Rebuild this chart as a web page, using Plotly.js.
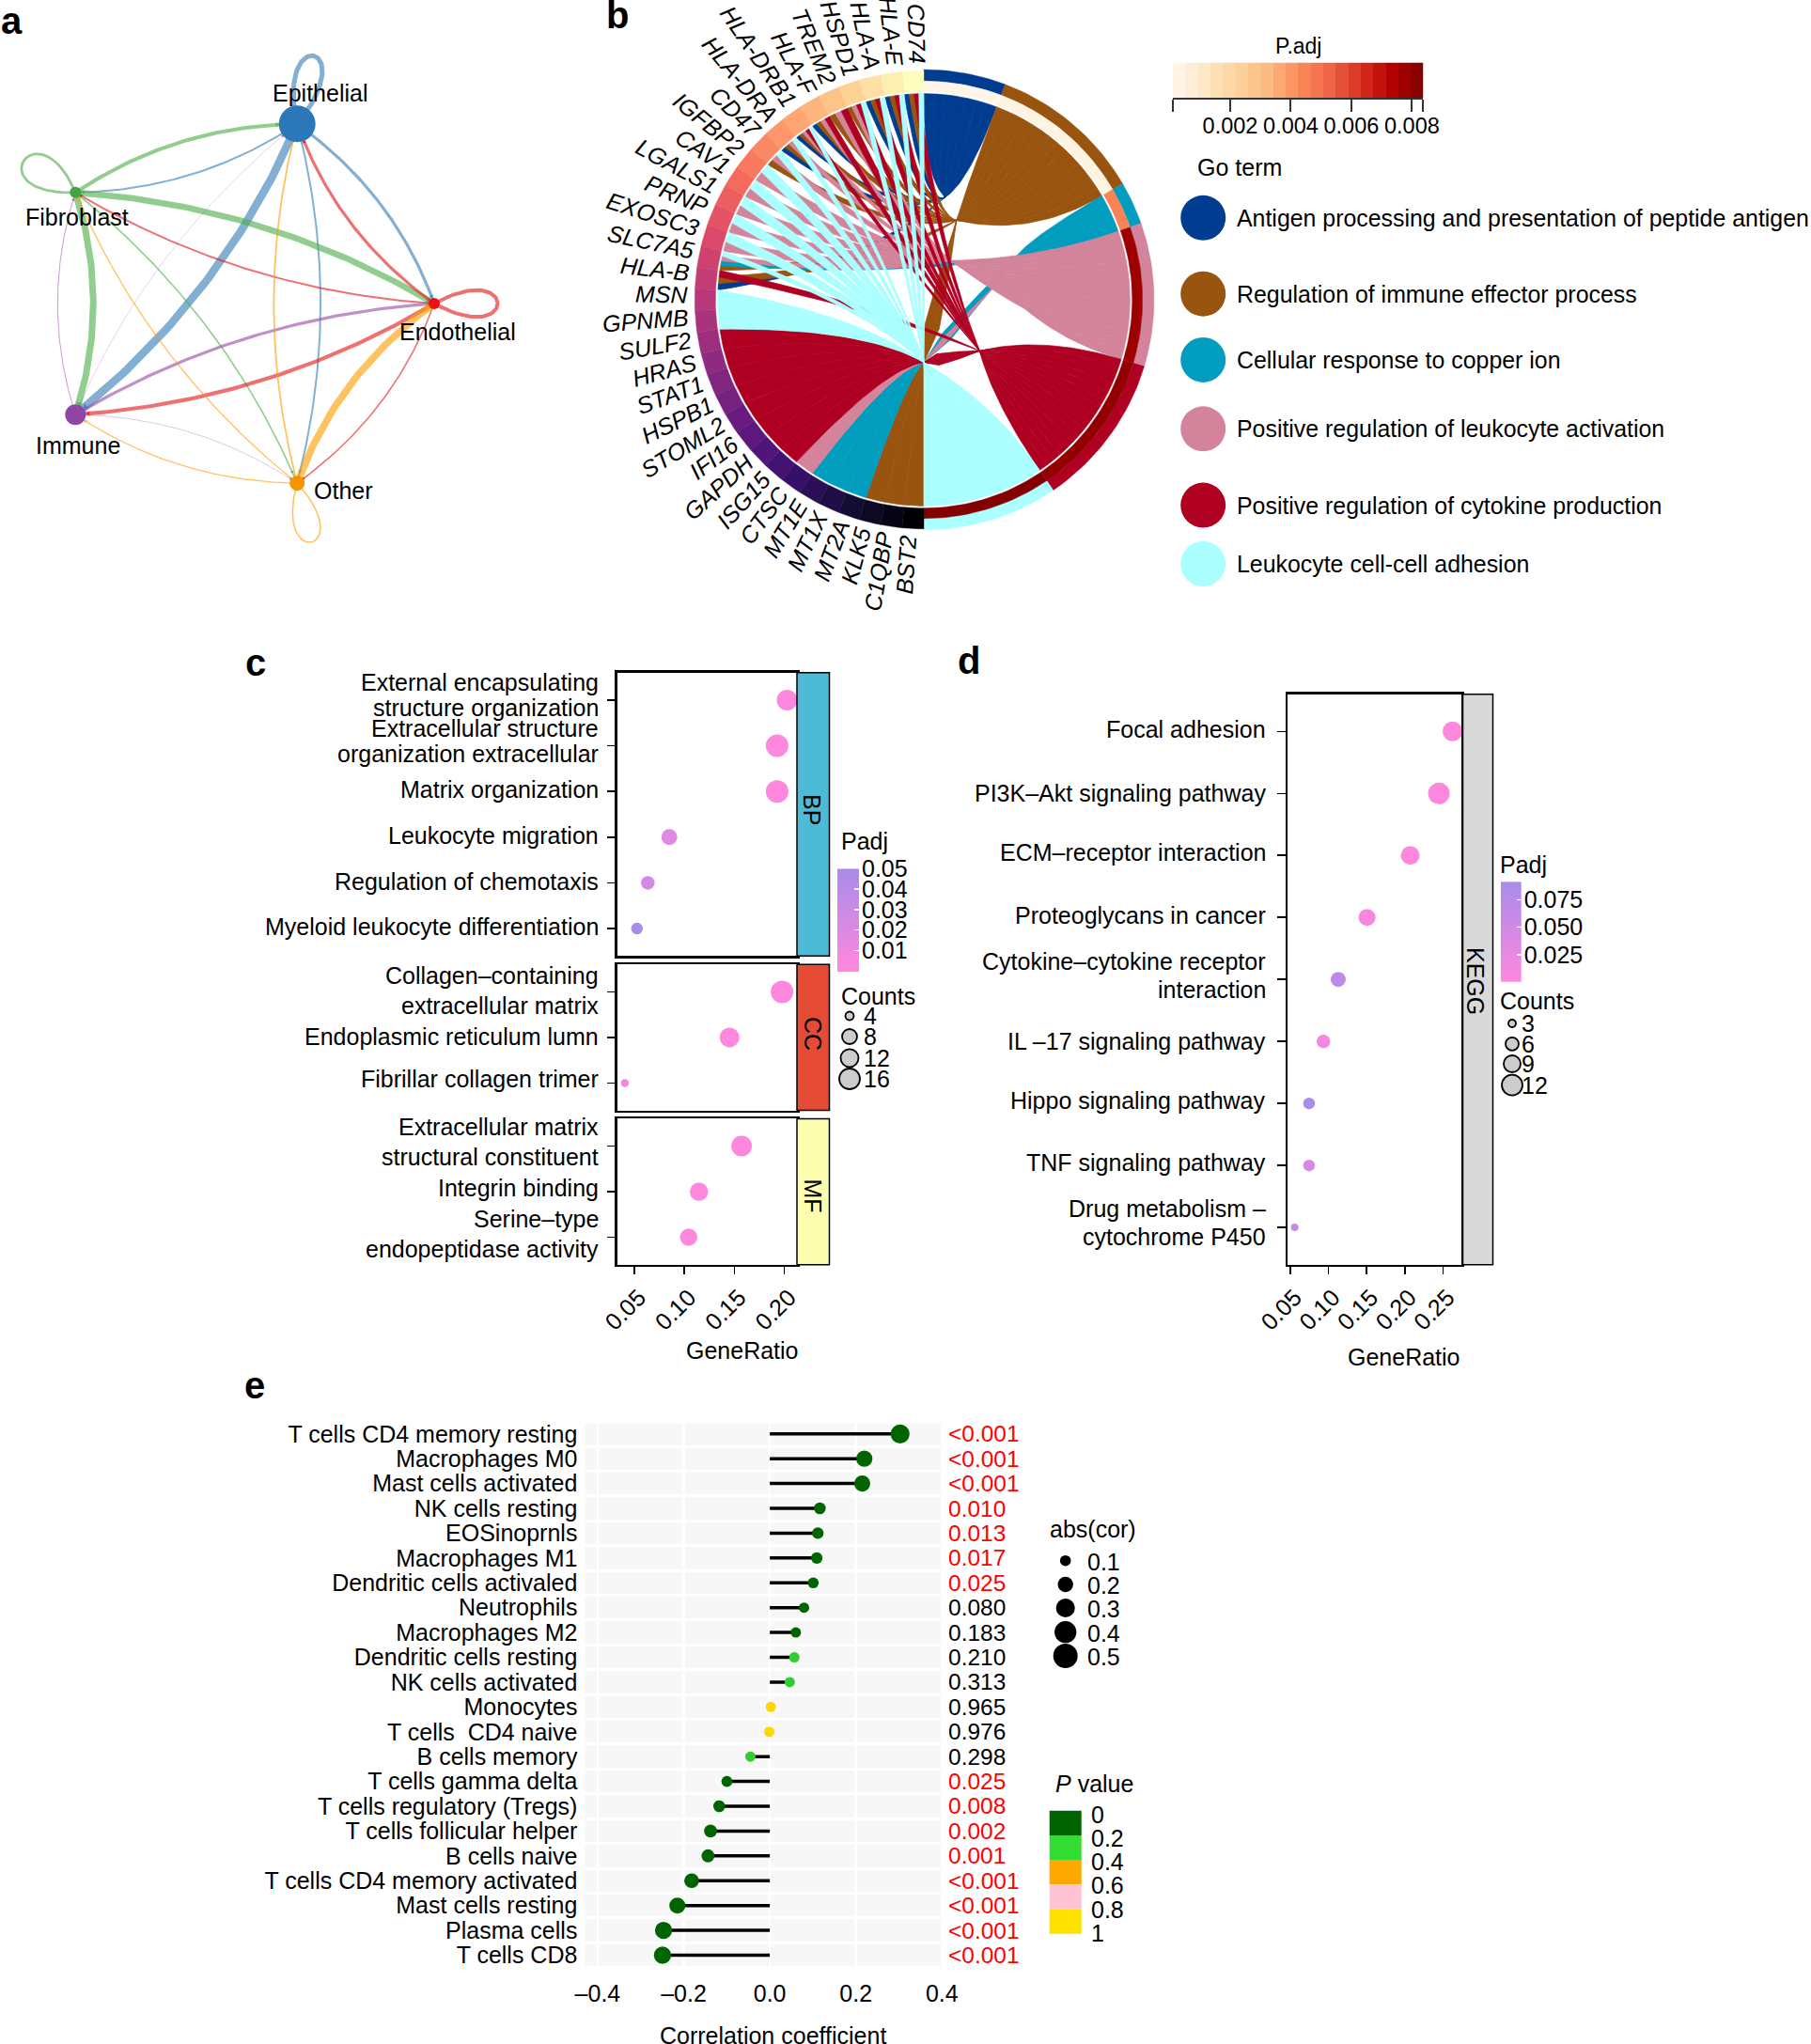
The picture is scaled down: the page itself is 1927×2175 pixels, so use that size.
<!DOCTYPE html>
<html><head><meta charset="utf-8">
<script src="https://cdn.plot.ly/plotly-3.0.1.min.js"></script>
<style>html,body{margin:0;padding:0;background:#fff}</style></head>
<body><div id="chart" style="width:1927px;height:2175px"></div>
<script>
// ---------- panel a : cell-communication network ----------
const nodeNames=['Epithelial','Fibroblast','Endothelial','Immune','Other'];
const nodeX=[0.309,-0.809,1,-0.809,0.309];
const nodeY=[0.951,0.588,0,-0.588,-0.951];
const nodeSize=[39,12,12,22,16];
const nodeColors=['#2B78B8','#3FA53C','#EE1111','#9045A5','#F59300'];
const edgeColors=['#377EB8','#4DAF4A','#E41A1C','#984EA3','#FF9D00'];
const edgeFrom=[0,0,0,0, 1,1,1,1, 2,2,2,2, 3,3,3,3, 4,4,4,4];
const edgeTo  =[1,3,2,4, 0,3,2,4, 0,1,3,4, 0,1,2,4, 0,1,2,3];
const edgeWeight=[2,8.5,3.2,2, 4,7,6.5,1.6, 3.2,2,4.2,1.6, 0.4,0.9,3.2,0.5, 1.8,1.3,7.5,1.3];
const loopNode=[0,1,2,4];
const loopWeight=[5,2.8,4,1.6];
const loopDir=[77,147,0,-77];
const loopSpread=[25,35,30,28];
const loopReach=[0.37,0.31,0.32,0.32];

// ---------- panel b : GO chord ----------
const genes=['CD74','HLA-E','HLA-A','HSPD1','TREM2','HLA-F','HLA-DRB1','HLA-DRA','CD47','IGFBP2','CAV1','LGALS1','PRNP','EXOSC3','SLC7A5','HLA-B','MSN','GPNMB','SULF2','HRAS','STAT1','HSPB1','STOML2','IFI16','GAPDH','ISG15','CTSC','MT1E','MT1X','MT2A','KLK5','C1QBP','BST2'];
const geneTerms=['HPRA','HPRA','HPRA','HPLR','PLR','PLRA','HPLRA','HLRA','HLR','HL','HL','HL','HL','HL','HCLR','PRA','H','H','P','P','P','P','P','P','P','P','L','C','C','C','R','R','R'];
const termKeys=['A','R','C','L','P','H'];
const termNames=['Antigen processing and presentation of peptide antigen','Regulation of immune effector process','Cellular response to copper ion','Positive regulation of leukocyte activation','Positive regulation of cytokine production','Leukocyte cell-cell adhesion'];
const termColors=['#003C8F','#99540F','#009DBF','#D4849A','#AF0022','#ABFFFF'];
const termSpan=[20.7,39,10.9,36.2,39,34.2];
const termPadj=[0.0002,0.0004,0.0045,0.0078,0.0080,0.0083];
const padjTicks=[0.002,0.004,0.006,0.008];
const padjMin=0.0001, padjMax=0.00837;
const orRd=['#FFF7EC','#FEE8C8','#FDD49E','#FDBB84','#FC8D59','#EF6548','#D7301F','#B30000','#7F0000'];
const magma=['#000004','#140E36','#3B0F70','#641A80','#8C2981','#B73779','#DE4968','#F7705C','#FE9F6D','#FECF92','#FCFDBF'];
// ribbon routing (in chord radii): where each term's fan closes, the shared lower hub, and stems
const termHub=[[0.092,0.445],[0.142,0.345],[0.40,0.187],[0.117,0.17],[0.242,-0.222],[0,-0.272]];
const stemEnd=[[0.092,0.445],[0.142,0.345],[0.40,0.187],[0.325,0.078],[0.242,-0.222],[0,-0.272]];
const stemWidth=[0,0.065,0.045,0.022,0.05,0];
const lowerHub=[0,-0.272];
const firstLowerGene=16;

// ---------- panel c : GO dot plot ----------
const cBP=['External encapsulating structure organization','Extracellular structure organization extracellular','Matrix organization','Leukocyte migration','Regulation of chemotaxis','Myeloid leukocyte differentiation'];
const cBPRatio=[0.2026,0.1927,0.1927,0.085,0.0635,0.0527];
const cBPSize=[22,24,24,17,14.5,12.5];
const cBPPadj=[0.001,0.001,0.001,0.018,0.025,0.05];
const cCC=['Collagen-containing extracellular matrix','Endoplasmic reticulum lumn','Fibrillar collagen trimer'];
const cCCRatio=[0.1976,0.1451,0.0406];
const cCCSize=[24,21,8.5];
const cCCPadj=[0.001,0.001,0.005];
const cMF=['Extracellular matrix structural constituent','Integrin binding','Serine-type endopeptidase activity'];
const cMFRatio=[0.1572,0.1146,0.1043];
const cMFSize=[22,19.5,18.5];
const cMFPadj=[0.001,0.001,0.001];
const cLines=['External encapsulating','structure organization','Extracellular structure','organization extracellular','Matrix organization','Leukocyte migration','Regulation of chemotaxis','Myeloid leukocyte differentiation','Collagen\u2013containing','extracellular matrix','Endoplasmic reticulum lumn','Fibrillar collagen trimer','Extracellular matrix','structural constituent','Integrin binding','Serine\u2013type','endopeptidase activity'];
const cLineY=[725.8,752.6,774.5,801.9,839.7,888.5,937.7,986,1038,1069.6,1102.9,1148,1199,1231,1263.6,1297,1329];
const cXTicks=[0.05,0.10,0.15,0.20];
const cPadjTicks=[0.01,0.02,0.03,0.04,0.05];
const cCountLabels=['4','8','12','16'];
const cCountSizes=[9,16,19,22];

// ---------- panel d : KEGG dot plot ----------
const dKegg=['Focal adhesion','PI3K-Akt signaling pathway','ECM-receptor interaction','Proteoglycans in cancer','Cytokine-cytokine receptor interaction','IL-17 signaling pathway','Hippo signaling pathway','TNF signaling pathway','Drug metabolism - cytochrome P450'];
const dRatio=[0.2624,0.2447,0.2071,0.1506,0.1129,0.0935,0.0747,0.0747,0.0559];
const dSize=[21,23,20,18,16,14.5,12.5,12.5,8];
const dPadj=[0.002,0.002,0.002,0.01,0.07,0.012,0.09,0.045,0.06];
const dLines=['Focal adhesion','PI3K\u2013Akt signaling pathway','ECM\u2013receptor interaction','Proteoglycans in cancer','Cytokine\u2013cytokine receptor','interaction','IL \u201317 signaling pathway','Hippo signaling pathway','TNF signaling pathway','Drug metabolism \u2013','cytochrome P450'];
const dLineY=[775.5,844.2,907.4,974.5,1022.8,1052.6,1107.9,1171,1237.2,1285.5,1315.8];
const dXTicks=[0.05,0.10,0.15,0.20,0.25];
const dPadjTicks=[0.025,0.05,0.075];
const dCountLabels=['3','6','9','12'];
const dCountSizes=[8,14,18,22];

// ---------- panel e : immune-cell lollipop ----------
const eCells=['T cells CD4 memory resting','Macrophages M0','Mast cells activated','NK cells resting','EOSinoprnls','Macrophages M1','Dendritic cells activaled','Neutrophils','Macrophages M2','Dendritic cells resting','NK cells activated','Monocytes','T cells \u00a0CD4 naive','B cells memory','T cells gamma delta','T cells regulatory (Tregs)','T cells follicular helper','B cells naive','T cells CD4 memory activated','Mast cells resting','Plasma cells','T cells CD8'];
const eCor=[0.3027,0.2196,0.2148,0.1163,0.1116,0.1092,0.1009,0.0795,0.0605,0.057,0.0463,0.0024,-0.0012,-0.0451,-0.0997,-0.1175,-0.1377,-0.1436,-0.1816,-0.2148,-0.2469,-0.2493];
const eP=[0.0005,0.0005,0.0005,0.010,0.013,0.017,0.025,0.080,0.183,0.210,0.313,0.965,0.976,0.298,0.025,0.008,0.002,0.001,0.0005,0.0005,0.0005,0.0005];
const ePText=['<0.001','<0.001','<0.001','0.010','0.013','0.017','0.025','0.080','0.183','0.210','0.313','0.965','0.976','0.298','0.025','0.008','0.002','0.001','<0.001','<0.001','<0.001','<0.001'];
const eXTicks=[-0.4,-0.2,0,0.2,0.4];
const eXText=['\u20130.4','\u20130.2','0.0','0.2','0.4'];
const pBinColors=['#006400','#32CD32','#FFA500','#FFC0CB','#FFD700'];
const pLegendColors=['#006400','#32DC32','#FFA800','#FFC4D4','#FFE100'];
const pLegendLabels=['0','0.2','0.4','0.6','0.8','1'];
const corLegend=[0.1,0.2,0.3,0.4,0.5];

// ---------- helpers ----------
const W=1927,H=2175,FONT='"Liberation Sans", Arial, sans-serif',FS=25;
const traces=[],annotations=[],shapes=[];
const layout={width:W,height:H,margin:{l:0,r:0,t:0,b:0},paper_bgcolor:'#fff',plot_bgcolor:'rgba(0,0,0,0)',
  showlegend:false,hovermode:false,font:{family:FONT,size:FS,color:'#000'},annotations,shapes};
let axN=0;
function sub(xd,yd,xo,yo){axN++;const s=axN===1?'':axN;
  layout['xaxis'+s]=Object.assign({domain:[xd[0]/W,xd[1]/W],anchor:'y'+s,zeroline:false,showgrid:false,fixedrange:true},xo);
  layout['yaxis'+s]=Object.assign({domain:[1-yd[1]/H,1-yd[0]/H],anchor:'x'+s,zeroline:false,showgrid:false,fixedrange:true},yo);
  return {xaxis:'x'+s,yaxis:'y'+s};}
function T(text,x,y,anchor,opt){opt=opt||{};const a=anchor||'left';if(a==='left')x-=2.5;
  annotations.push({text,x:x/W,y:1-y/H,xref:'paper',yref:'paper',xanchor:a,yanchor:'middle',showarrow:false,
    textangle:opt.angle||0,borderpad:0,font:{family:FONT,size:opt.size||FS,color:opt.color||'#000',weight:opt.weight}});}
function rectPx(x0,y0,x1,y1,fill,lw){shapes.push({type:'rect',xref:'paper',yref:'paper',x0:x0/W,x1:x1/W,y0:1-y0/H,y1:1-y1/H,fillcolor:fill,line:{color:'#000',width:lw===undefined?1.5:lw}});}
function hex2(c){return [1,3,5].map(i=>parseInt(c.substr(i,2),16));}
function ramp(stops,t){t=Math.max(0,Math.min(1,t));const f=t*(stops.length-1),i=Math.min(Math.floor(f),stops.length-2),u=f-i,a=hex2(stops[i]),b=hex2(stops[i+1]);
  return 'rgb('+a.map((v,k)=>Math.round(v+(b[k]-v)*u)).join(',')+')';}
const HID={visible:false};

// ---------- a ----------
const netAx=sub([0,560],[0,640],Object.assign({range:[(0-251)/211,(560-251)/211]},HID),Object.assign({range:[(323-640)/201,(323-0)/201]},HID));
const NS=60;
edgeFrom.forEach((f,i)=>{const t=edgeTo[i],x0=nodeX[f],y0=nodeY[f],x1=nodeX[t],y1=nodeY[t],dx=x1-x0,dy=y1-y0,k=0.2-0.04*Math.hypot(dx,dy);
  const cx=(x0+x1)/2-dy*k,cy=(y0+y1)/2+dx*k,xs=[],ys=[];
  for(let j=0;j<=NS;j++){const u=j/NS;xs.push((1-u)*(1-u)*x0+2*u*(1-u)*cx+u*u*x1);ys.push((1-u)*(1-u)*y0+2*u*(1-u)*cy+u*u*y1);}
  traces.push(Object.assign({type:'scatter',mode:'lines',x:xs,y:ys,opacity:0.62,line:{color:edgeColors[f],width:edgeWeight[i]},hoverinfo:'skip'},netAx));
  const lenPx=Math.hypot(dx*211,dy*201),u=1-(nodeSize[t]/2+2)/lenPx,j=Math.round(u*NS);
  const ang=Math.atan2(xs[j]-xs[j-1],ys[j]-ys[j-1])*180/Math.PI;
  traces.push(Object.assign({type:'scatter',mode:'markers',x:[xs[j]],y:[ys[j]],marker:{opacity:0.8,symbol:'triangle-up',size:3+edgeWeight[i]*0.35,color:edgeColors[f],angle:ang,line:{width:0}},hoverinfo:'skip'},netAx));
});
loopNode.forEach((n,i)=>{const r=Math.PI/180,a=loopSpread[i]*r,d=loopDir[i]*r,L=loopReach[i]/0.75/Math.cos(a);
  const x0=nodeX[n],y0=nodeY[n],p1=[x0+L*Math.cos(d+a),y0+L*Math.sin(d+a)],p2=[x0+L*Math.cos(d-a),y0+L*Math.sin(d-a)],xs=[],ys=[];
  for(let j=0;j<=NS;j++){const u=j/NS,v=1-u;xs.push(v*v*v*x0+3*v*v*u*p1[0]+3*v*u*u*p2[0]+u*u*u*x0);ys.push(v*v*v*y0+3*v*v*u*p1[1]+3*v*u*u*p2[1]+u*u*u*y0);}
  traces.push(Object.assign({type:'scatter',mode:'lines',x:xs,y:ys,opacity:0.62,line:{color:edgeColors[n],width:loopWeight[i]},hoverinfo:'skip'},netAx));
});
traces.push(Object.assign({type:'scatter',mode:'markers',x:nodeX,y:nodeY,marker:{opacity:1,size:nodeSize,color:nodeColors,line:{width:0}},hoverinfo:'skip'},netAx));
const nodeLabelPos=[[340,99],[82,231],[487,353],[83,474],[365,522]];
nodeNames.forEach((n,i)=>T(n,nodeLabelPos[i][0],nodeLabelPos[i][1],'center'));

// ---------- b ----------
const chordR=245,chordCx=983,chordCy=319,chordHalf=330;
const chordAx=sub([chordCx-chordHalf,chordCx+chordHalf],[chordCy-319,chordCy+319],
  Object.assign({range:[-chordHalf/chordR,chordHalf/chordR]},HID),Object.assign({range:[-319/chordR,319/chordR]},HID));
const rad=Math.PI/180;
const polR=(deg,r)=>[r*Math.sin(deg*rad),r*Math.cos(deg*rad)];
const polL=(deg,r)=>[-r*Math.sin(deg*rad),r*Math.cos(deg*rad)];
function ringSeg(pol,a0,a1,r0,r1,color){const xs=[],ys=[],n=Math.max(3,Math.ceil((a1-a0)/1.5));
  for(let j=0;j<=n;j++){const p=pol(a0+(a1-a0)*j/n,r1);xs.push(p[0]);ys.push(p[1]);}
  for(let j=n;j>=0;j--){const p=pol(a0+(a1-a0)*j/n,r0);xs.push(p[0]);ys.push(p[1]);}
  xs.push(xs[0]);ys.push(ys[0]);
  traces.push(Object.assign({type:'scatter',mode:'lines',x:xs,y:ys,fill:'toself',fillcolor:color,line:{color:color,width:0.4},hoverinfo:'skip'},chordAx));}
const geneW=180/genes.length,RIB=0.895,FAN=0.6,NB=24,TAPER=0.6;
const withinGene='HPLCRA';
const glinks={};termKeys.forEach(k=>glinks[k]=[]);
geneTerms.forEach((s,g)=>{const ks=withinGene.split('').filter(k=>s.includes(k));
  ks.forEach((k,j)=>glinks[k].push({g,a0:g*geneW+j*geneW/ks.length,a1:g*geneW+(j+1)*geneW/ks.length}));});
function quad(p,c,q,out){for(let j=0;j<=NB;j++){const u=j/NB,v=1-u;out.push([v*v*p[0]+2*u*v*c[0]+u*u*q[0],v*v*p[1]+2*u*v*c[1]+u*u*q[1]]);}}
const mixP=(a,b,u)=>[a[0]+(b[0]-a[0])*u,a[1]+(b[1]-a[1])*u];
// one side of a ribbon: gene rim -> hub(s) -> term rim
function ribbonEdge(G,Gc,Tp,ti,lower,off){const pts=[],hub=termHub[ti];
  const first=lower?lowerHub:hub;
  if(lower){const mid=mixP(G,first,0.5);quad(G,[mid[0]*0.6,mid[1]*0.6],first,pts);}
  else{const mid=mixP(Gc,first,0.5),core=[];quad(Gc,[mid[0]*0.6,mid[1]*0.6],first,core);
    const ox=G[0]-Gc[0],oy=G[1]-Gc[1];
    core.forEach((p,j)=>{const f=Math.pow(1-j/NB,TAPER);pts.push([p[0]+ox*f,p[1]+oy*f]);});}
  let last=first;
  if(lower&&stemWidth[ti]>0){const e=stemEnd[ti],dx=e[0]-lowerHub[0],dy=e[1]-lowerHub[1],L=Math.hypot(dx,dy),nx=-dy/L,ny=dx/L;
    [[0.25,1],[0.65,0.6]].forEach(w=>{const p=mixP(lowerHub,e,w[0]);pts.push([p[0]+nx*off*stemWidth[ti]*w[1],p[1]+ny*off*stemWidth[ti]*w[1]]);});
    pts.push(e);last=e;}
  quad(last,[Tp[0]*FAN,Tp[1]*FAN],Tp,pts);
  return pts;}
let tStart=0;const tBounds=[];
const spanSum=termSpan.reduce((a,b)=>a+b,0);
termKeys.forEach((k,ti)=>{const sp=termSpan[ti]*180/spanSum,ls=glinks[k],w=sp/ls.length;
  tBounds.push([tStart,tStart+sp]);
  const nLow=ls.filter(l=>l.g>=firstLowerGene).length;let iLow=0;
  ls.forEach((l,i)=>{const t0=tStart+i*w,t1=t0+w,lower=l.g>=firstLowerGene;
    const o0=lower?-0.5+iLow/nLow:0,o1=lower?-0.5+(iLow+1)/nLow:0;if(lower)iLow++;
    const Gc=polL((l.a0+l.a1)/2,RIB);
    const e0=ribbonEdge(polL(l.a0,RIB),Gc,polR(t0,RIB),ti,lower,o0),e1=ribbonEdge(polL(l.a1,RIB),Gc,polR(t1,RIB),ti,lower,o1);
    const pts=e0.slice();
    for(let j=1;j<6;j++)pts.push(polR(t0+(t1-t0)*j/6,RIB));
    pts.push(...e1.reverse());
    for(let j=1;j<=4;j++)pts.push(polL(l.a1+(l.a0-l.a1)*j/4,RIB));
    traces.push(Object.assign({type:'scatter',mode:'lines',x:pts.map(p=>p[0]),y:pts.map(p=>p[1]),fill:'toself',fillcolor:termColors[ti],line:{width:0.7,color:termColors[ti]},hoverinfo:'skip'},chordAx));
  });
  tStart+=sp;
});
termKeys.forEach((k,ti)=>{const b=tBounds[ti];
  ringSeg(polR,b[0],b[1],0.95,1.0,termColors[ti]);
  ringSeg(polR,b[0],b[1],0.905,0.95,ramp(orRd,(termPadj[ti]-padjMin)/(padjMax-padjMin)));});
const meas=document.createElement('canvas').getContext('2d');meas.font='italic 25px "Liberation Sans"';
genes.forEach((g,i)=>{ringSeg(polL,i*geneW,(i+1)*geneW,0.905,0.995,ramp(magma,1-i/(genes.length-1)));
  const th=(i+0.5)*geneW-1.2,w=meas.measureText(g).width,p=polL(th,(chordR+6+w/2)/chordR);
  annotations.push({text:'<i>'+g+'</i>',x:p[0],y:p[1],xref:chordAx.xaxis,yref:chordAx.yaxis,xanchor:'center',yanchor:'middle',showarrow:false,textangle:90-th,font:{family:FONT,size:25,color:'#000'}});
});
// padj colour key
const padjAx=sub([1247.8,1514.3],[66.5,104],{range:[padjMin,padjMax],tickmode:'array',
  tickvals:[padjMin].concat(padjTicks,[padjMax]),ticktext:['','0.002','0.004','0.006','0.008',''],ticks:'outside',ticklen:13,tickwidth:2,tickcolor:'#333',showline:true,linecolor:'#333',linewidth:1.5,tickfont:{size:23.5},ticklabelstandoff:-5},Object.assign({range:[-0.5,0.5]},HID));
const padjSteps=Array.from({length:20},(_,i)=>padjMin+(i+0.5)*(padjMax-padjMin)/20);
traces.push(Object.assign({type:'heatmap',x:padjSteps,y:[0],z:[padjSteps],colorscale:orRd.map((c,i)=>[i/(orRd.length-1),c]),zmin:padjMin,zmax:padjMax,showscale:false,hoverinfo:'skip'},padjAx));
T('P.adj',1381,49,'center',{size:23});
T('Go term',1275,178,'left');
const termLegY=[231.8,312.7,382.9,456.3,537.6,600];
termNames.forEach((n,i)=>{T(n,1317,termLegY[i],'left',{size:24.9});
  shapes.push({type:'circle',xref:'paper',yref:'paper',x0:(1280.2-24)/W,x1:(1280.2+24)/W,y0:1-(termLegY[i]+24)/H,y1:1-(termLegY[i]-24)/H,fillcolor:termColors[i],line:{width:0}});});

// ---------- c & d ----------
const dotScale=[[0,'#FF88DD'],[1,'#A98BEB']];
const frame={showline:true,mirror:true,linecolor:'#000',linewidth:2.5};
const xRangeC=[0.0329,0.2125],xRangeD=[0.0465,0.2741];
function dotPanel(xd,yd,xRange,cats,ratio,size,padj,cmax,xTicks,showX){
  const n=cats.length,idx=cats.map((_,i)=>i);
  const xo=Object.assign({range:xRange,tickmode:'array',tickvals:xTicks,ticks:showX?'outside':'',ticklen:8,tickwidth:1.5,tickcolor:'#000',showticklabels:!!showX,tickangle:-45,tickformat:'.2f',tickfont:{size:25},ticklabelshift:5},frame);
  const yo=Object.assign({range:[n-0.4,-0.6],tickmode:'array',tickvals:idx,ticks:'outside',ticklen:8.5,tickwidth:1.5,tickcolor:'#000',showticklabels:false},frame);
  const ax=sub(xd,yd,xo,yo);
  traces.push(Object.assign({type:'scatter',mode:'markers',x:ratio,y:idx,text:cats,marker:{opacity:1,size,color:padj,colorscale:dotScale,cmin:0,cmax,line:{width:0}},hoverinfo:'skip'},ax));
}
dotPanel([656.7,848],[715.8,1017.3],xRangeC,cBP,cBPRatio,cBPSize,cBPPadj,0.05,cXTicks,false);
dotPanel([656.7,848],[1026.3,1181.5],xRangeC,cCC,cCCRatio,cCCSize,cCCPadj,0.05,cXTicks,false);
dotPanel([656.7,848],[1190.4,1345.7],xRangeC,cMF,cMFRatio,cMFSize,cMFPadj,0.05,cXTicks,true);
dotPanel([1370,1555],[738.7,1345.7],xRangeD,dKegg,dRatio,dSize,dPadj,0.092,dXTicks,true);
cLines.forEach((t,i)=>T(t,637.6,cLineY[i],'right'));
dLines.forEach((t,i)=>T(t,1348.3,dLineY[i],'right'));
[['#4DBBD5',715.8,1017.3,'BP',861.6],['#E64B35',1026.3,1181.5,'CC',1099.4],['#FDFDB0',1190.4,1345.7,'MF',1272]].forEach(s=>{
  rectPx(848,s[1],882.5,s[2],s[0]);T(s[3],864.5,s[4],'center',{angle:90});});
rectPx(1556.5,738.7,1588.5,1345.7,'#D9D9D9');T('KEGG',1570,1044,'center',{angle:90});
T('GeneRatio',789.7,1436.7,'center');T('GeneRatio',1493.8,1443.7,'center');
function gradBar(xd,yd,range,ticks,ticktext,ccmax){
  const ax=sub(xd,yd,Object.assign({range:[0,1]},HID),{range,side:'right',tickmode:'array',tickvals:ticks,ticktext,ticks:'inside',ticklen:5,tickcolor:'#fff',tickwidth:1.5,tickfont:{size:25},ticklabelstandoff:2,showline:false});
  const lv=Array.from({length:60},(_,i)=>range[0]+(i+0.5)*(range[1]-range[0])/60);
  traces.push(Object.assign({type:'heatmap',x:[0.5],y:lv,z:lv.map(v=>[v]),colorscale:dotScale,zmin:0,zmax:ccmax,showscale:false,hoverinfo:'skip',dx:1},ax));
}
gradBar([891,914],[924.3,1034.2],[-0.0004,0.05],cPadjTicks,['0.01','0.02','0.03','0.04','0.05'],0.05);
gradBar([1597,1618.7],[938.2,1044.7],[0.0002,0.0917],dPadjTicks,['0.025','0.050','0.075'],0.092);
T('Padj',896,895.4,'left');T('Counts',896,1059.6,'left');
T('Padj',1597,920.3,'left');T('Counts',1597,1064.6,'left');

// legends on a full-page axis
const legAx=sub([0,W],[0,H],Object.assign({range:[0,W]},HID),Object.assign({range:[H,0]},HID));
const cCountY=[1081,1103,1125.8,1148],dCountY=[1089,1110.8,1132,1154.6];
traces.push(Object.assign({type:'scatter',mode:'markers',x:cCountSizes.map(_=>904),y:cCountY,marker:{opacity:1,size:cCountSizes,color:'#cccccc',line:{color:'#000',width:1.8}},hoverinfo:'skip'},legAx));
traces.push(Object.assign({type:'scatter',mode:'markers',x:dCountSizes.map(_=>1609),y:dCountY,marker:{opacity:1,size:dCountSizes,color:'#cccccc',line:{color:'#000',width:1.8}},hoverinfo:'skip'},legAx));
cCountLabels.forEach((t,i)=>T(t,920,cCountY[i],'left'));
dCountLabels.forEach((t,i)=>T(t,1620,dCountY[i],'left'));

// ---------- e ----------
const eIdx=eCells.map((_,i)=>i);
const eAx=sub([622.4,1003.4],[1514.7,2095],
  {range:[-0.4295,0.4024],tickmode:'array',tickvals:eXTicks,ticktext:eXText,ticks:'',showgrid:true,gridcolor:'#fff',gridwidth:2.5,tickfont:{size:25},ticklabelstandoff:9},
  {range:[21.55,-0.42],tickmode:'array',tickvals:eIdx,ticktext:eCells,ticks:'',tickfont:{size:25},ticklabelstandoff:7,
   minor:{tickmode:'array',tickvals:eIdx.map(i=>i+0.5),showgrid:true,gridcolor:'#fff',gridwidth:3,ticks:''}});
shapes.push({type:'rect',xref:'paper',yref:'paper',layer:'below',x0:622.4/W,x1:1003.4/W,y0:1-2095/H,y1:1-1514.7/H,fillcolor:'#F7F7F7',line:{width:0}});
const stemX=[],stemY=[];
eCor.forEach((v,i)=>{stemX.push(0,v,null);stemY.push(i,i,null);});
traces.push(Object.assign({type:'scatter',mode:'lines',x:stemX,y:stemY,line:{color:'#000',width:3.5},hoverinfo:'skip'},eAx));
const corSize=c=>Math.max(26*Math.sqrt(Math.abs(c)/0.5),11);
const pColor=p=>pBinColors[Math.min(4,Math.floor(p/0.2))];
traces.push(Object.assign({type:'scatter',mode:'markers',x:eCor,y:eIdx,text:eCells,marker:{opacity:1,size:eCor.map(corSize),color:eP.map(pColor),line:{width:0}},hoverinfo:'skip'},eAx));
ePText.forEach((t,i)=>annotations.push({text:t.replace('<','&lt;'),x:1007.5/W,xref:'paper',y:i,yref:eAx.yaxis,xanchor:'left',yanchor:'middle',showarrow:false,borderpad:0,font:{family:FONT,size:24.5,color:eP[i]<0.05?'#FF0000':'#000'}}));
T('Correlation coefficient',822,2165.7,'center');
T('abs(cor)',1118,1626.7,'left');
const corLegY=[1660.7,1686,1711,1736.7,1762];
traces.push(Object.assign({type:'scatter',mode:'markers',x:corLegend.map(_=>1133.7),y:corLegY,marker:{opacity:1,size:corLegend.map(corSize),color:'#000',line:{width:0}},hoverinfo:'skip'},legAx));
corLegend.forEach((v,i)=>T(v.toFixed(1),1158.3,corLegY[i]+1,'left'));
T('<i>P</i> value',1124,1898,'left');
pLegendColors.forEach((c,i)=>rectPx(1116.7,1926.7+i*26.2,1150.7,1926.7+(i+1)*26.2,c,0));
const pLegY=[1930.7,1955.7,1980.7,2006,2031.7,2056.7];
pLegendLabels.forEach((t,i)=>T(t,1162.7,pLegY[i],'left'));

// panel letters
[['a',2,22],['b',646.5,16],['c',262,705],['d',1020,703],['e',261,1474]].forEach(l=>T(l[0],l[1],l[2],'left',{size:40,weight:'bold'}));

Plotly.newPlot('chart',traces,layout,{displayModeBar:false,staticPlot:true});
</script></body></html>
